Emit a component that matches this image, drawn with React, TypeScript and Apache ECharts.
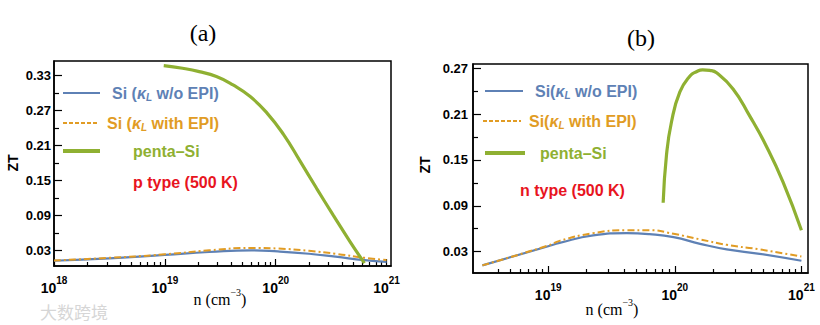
import React, { useEffect, useRef } from "react";
import * as echarts from "echarts";

// ---- data (x values are log10 of n in cm^-3) ----
const leftSiX = [18.0, 18.5, 19.0, 19.4, 19.78, 20.02, 20.3, 20.54, 20.8, 21.0];
const leftBlue = [0.012, 0.016, 0.022, 0.027, 0.030, 0.028, 0.024, 0.019, 0.013, 0.010];
const leftOrange = [0.0125, 0.017, 0.023, 0.030, 0.034, 0.033, 0.029, 0.024, 0.017, 0.0135];
const leftGreenX = [18.99, 19.16, 19.31, 19.465, 19.615, 19.77, 19.92, 20.07, 20.22, 20.37, 20.52, 20.67, 20.8];
const leftGreen = [0.347, 0.3425, 0.3368, 0.3283, 0.3139, 0.294, 0.266, 0.229, 0.183, 0.136, 0.09, 0.045, 0.008];

const rightSiX = [18.48, 19.0, 19.09, 19.355, 19.62, 19.8, 19.99, 20.2, 20.41, 20.67, 21.0];
const rightBlue = [0.012, 0.037, 0.0415, 0.0512, 0.0542, 0.0529, 0.049, 0.0402, 0.0329, 0.0271, 0.018];
const rightOrange = [0.012, 0.038, 0.0441, 0.0542, 0.0581, 0.0581, 0.0533, 0.046, 0.0389, 0.0329, 0.0235];
const rightGreenX = [19.908, 19.934, 19.974, 20.04, 20.12, 20.17, 20.22, 20.276, 20.33, 20.46, 20.59, 20.72, 20.855, 21.0];
const rightGreen = [0.094, 0.156, 0.2, 0.239, 0.26, 0.2655, 0.268, 0.2672, 0.264, 0.243, 0.208, 0.169, 0.121, 0.058];

// ---- ticks ----
const leftXMajor = [18, 19, 20, 21];
const rightXMajor = [19, 20, 21];
const minorMultipliers = [2, 3, 4, 5, 6, 7, 8, 9];
const leftDecades = [18, 19, 20];
const rightDecades = [18, 19, 20];
const yMajor = [0.03, 0.09, 0.15, 0.21, 0.27, 0.33];
const yMinor = [0.06, 0.12, 0.18, 0.24, 0.3];
const rightYMajor = [0.03, 0.09, 0.15, 0.21, 0.27];
const rightYMinor = [0.06, 0.12, 0.18, 0.24];

const BLUE = "#5E81B5";
const ORANGE = "#E19C24";
const GREEN = "#8FB032";
const RED = "#E8141E";
const SANS = "Liberation Sans";
const SERIF = "Liberation Serif";

const pairs = (xs: number[], ys: number[]) => xs.map((x, i) => [x, ys[i]]);
const minorTicks = (decades: number[], lo: number, hi: number) => {
  const out: number[] = [];
  decades.forEach((d) =>
    minorMultipliers.forEach((m) => {
      const v = d + Math.log10(m);
      if (v >= lo && v <= hi) out.push(v);
    })
  );
  return out;
};

function App() {
  const ref = useRef<HTMLDivElement>(null);
  useEffect(() => {
    if (!ref.current) return;
    const chart = echarts.init(ref.current, undefined, { renderer: "svg" });

    const LX = [18, 21.04];
    const RX = [18.406, 21.052];
    const LY = [0.003, 0.355];
    const RY = [0.002, 0.2756];

    const xLabel = {
      fontFamily: SANS,
      fontWeight: "bold",
      fontSize: 14,
      color: "#000",
      margin: 9,
      formatter: (v: number) => `{b|10}{s|${Math.round(v)}}`,
      rich: {
        b: { fontFamily: SANS, fontWeight: "bold", fontSize: 14, color: "#000", lineHeight: 20, verticalAlign: "bottom" },
        s: { fontFamily: SANS, fontWeight: "bold", fontSize: 10, color: "#000", lineHeight: 20, verticalAlign: "top" },
      },
    };
    const axisLine = { show: true, lineStyle: { color: "#000", width: 1.5 } };

    const majorX = (grid: number, range: number[], ticks: number[]) => ({
      type: "value",
      gridIndex: grid,
      position: "bottom",
      min: range[0],
      max: range[1],
      axisLine,
      splitLine: { show: false },
      axisTick: { show: true, inside: true, length: 7, customValues: ticks, lineStyle: { color: "#000", width: 1.2 } },
      axisLabel: { ...xLabel, customValues: ticks, showMinLabel: true, showMaxLabel: true },
    });
    const minorX = (grid: number, range: number[], ticks: number[]) => ({
      type: "value",
      gridIndex: grid,
      position: "bottom",
      min: range[0],
      max: range[1],
      axisLine: { show: false },
      splitLine: { show: false },
      axisTick: { show: true, inside: true, length: 4, customValues: ticks, lineStyle: { color: "#000", width: 1.2 } },
      axisLabel: { show: false },
    });
    const majorY = (grid: number, range: number[], ticks: number[], margin: number) => ({
      type: "value",
      gridIndex: grid,
      position: "left",
      min: range[0],
      max: range[1],
      axisLine,
      splitLine: { show: false },
      axisTick: { show: true, inside: true, length: 8, customValues: ticks, lineStyle: { color: "#000", width: 1.2 } },
      axisLabel: {
        customValues: ticks,
        fontFamily: SANS,
        fontWeight: "bold",
        fontSize: 13,
        color: "#000",
        margin,
        formatter: (v: number) => v.toFixed(2),
      },
    });
    const minorY = (grid: number, range: number[], ticks: number[]) => ({
      type: "value",
      gridIndex: grid,
      position: "left",
      min: range[0],
      max: range[1],
      axisLine: { show: false },
      splitLine: { show: false },
      axisTick: { show: true, inside: true, length: 5, customValues: ticks, lineStyle: { color: "#000", width: 1.2 } },
      axisLabel: { show: false },
    });

    const line = (name: string, xi: number, yi: number, data: number[][], color: string, width: number, type: any) => ({
      name,
      type: "line",
      xAxisIndex: xi,
      yAxisIndex: yi,
      data,
      smooth: 0.5,
      showSymbol: false,
      symbol: "none",
      lineStyle: { color, width, type },
      z: color === GREEN ? 3 : 2,
    });

    const subLabel = (x: number, y: number, text: string, color: string) => ({
      type: "text",
      x,
      y,
      style: {
        text,
        fill: color,
        font: `bold 16px "${SANS}"`,
        verticalAlign: "middle",
        rich: {
          n: { fontFamily: SANS, fontWeight: "bold", fontSize: 16, fill: color, color, lineHeight: 20, verticalAlign: "middle" },
          k: { fontFamily: SANS, fontWeight: "bold", fontStyle: "italic", fontSize: 16, fill: color, color, lineHeight: 20, verticalAlign: "middle" },
          l: { fontFamily: SANS, fontWeight: "bold", fontStyle: "italic", fontSize: 10, fill: color, color, lineHeight: 20, verticalAlign: "bottom", padding: [0, 0, 1, 0] },
        },
      },
    });
    const plainLabel = (x: number, y: number, text: string, color: string) => ({
      type: "text",
      x,
      y,
      style: { text, fill: color, font: `bold 16px "${SANS}"`, verticalAlign: "middle" },
    });
    const legLine = (x1: number, x2: number, y: number, color: string, width: number, dash?: number[]) => ({
      type: "line",
      shape: { x1, y1: y, x2, y2: y },
      style: { stroke: color, lineWidth: width, lineDash: dash || null },
    });
    const axisName = (x: number, y: number) => ({
      type: "text",
      x,
      y,
      style: {
        text: "{a|n (cm}{s|−3}{a|)}",
        align: "center",
        verticalAlign: "middle",
        rich: {
          a: { fontFamily: SERIF, fontSize: 16, fill: "#000", color: "#000", lineHeight: 20, verticalAlign: "bottom" },
          s: { fontFamily: SERIF, fontSize: 10, fill: "#000", color: "#000", lineHeight: 20, verticalAlign: "top" },
        },
      },
    });
    const zt = (x: number, y: number) => ({
      type: "text",
      x,
      y,
      rotation: Math.PI / 2,
      style: { text: "ZT", fill: "#000", font: `bold 14px "${SANS}"`, align: "center", verticalAlign: "middle" },
    });

    chart.setOption({
      animation: false,
      backgroundColor: "#fff",
      grid: [
        { left: 54, top: 61, width: 337, height: 205, show: true, borderColor: "#000", borderWidth: 1.5, backgroundColor: "transparent" },
        { left: 473, top: 64, width: 335, height: 209, show: true, borderColor: "#000", borderWidth: 1.5, backgroundColor: "transparent" },
      ],
      xAxis: [
        majorX(0, LX, leftXMajor),
        minorX(0, LX, minorTicks(leftDecades, LX[0] + 0.01, LX[1])),
        majorX(1, RX, rightXMajor),
        minorX(1, RX, minorTicks(rightDecades, 18.55, RX[1])),
      ],
      yAxis: [
        majorY(0, LY, yMajor, 3),
        minorY(0, LY, yMinor),
        majorY(1, RY, rightYMajor, 5),
        minorY(1, RY, rightYMinor),
      ],
      series: [
        line("Si w/o EPI (p)", 0, 0, pairs(leftSiX, leftBlue), BLUE, 2.2, "solid"),
        line("Si with EPI (p)", 0, 0, pairs(leftSiX, leftOrange), ORANGE, 2, [7, 3, 2, 3]),
        line("penta-Si (p)", 0, 0, pairs(leftGreenX, leftGreen), GREEN, 3.2, "solid"),
        line("Si w/o EPI (n)", 2, 2, pairs(rightSiX, rightBlue), BLUE, 2.2, "solid"),
        line("Si with EPI (n)", 2, 2, pairs(rightSiX, rightOrange), ORANGE, 2, [7, 3, 2, 3]),
        line("penta-Si (n)", 2, 2, pairs(rightGreenX, rightGreen), GREEN, 3.2, "solid"),
      ],
      graphic: [
        { type: "text", x: 203, y: 33, style: { text: "(a)", fill: "#000", font: `24px "${SERIF}"`, align: "center", verticalAlign: "middle" } },
        { type: "text", x: 641, y: 38, style: { text: "(b)", fill: "#000", font: `24px "${SERIF}"`, align: "center", verticalAlign: "middle" } },
        zt(13, 163),
        zt(425, 165),
        axisName(220, 297),
        axisName(612, 307),
        // left legend
        legLine(63, 100, 93, BLUE, 2.2),
        subLabel(112, 93, "{n|Si (}{k|κ}{l|L}{n| w/o EPI)}", BLUE),
        legLine(63, 98, 123, ORANGE, 2, [4, 2]),
        subLabel(107, 123, "{n|Si (}{k|κ}{l|L}{n| with EPI)}", ORANGE),
        legLine(63, 100, 151, GREEN, 4),
        plainLabel(133, 151, "penta–Si", GREEN),
        plainLabel(133, 182, "p type (500 K)", RED),
        // right legend
        legLine(485, 523, 91, BLUE, 2.2),
        subLabel(535, 91, "{n|Si(}{k|κ}{l|L}{n| w/o EPI)}", BLUE),
        legLine(483, 521, 121, ORANGE, 2, [4, 2]),
        subLabel(529, 121, "{n|Si(}{k|κ}{l|L}{n| with EPI)}", ORANGE),
        legLine(485, 525, 153, GREEN, 4),
        plainLabel(540, 153, "penta–Si", GREEN),
        plainLabel(520, 190, "n type (500 K)", RED),
        // watermark
        { type: "text", x: 40, y: 311, style: { text: "大数跨境", fill: "#d6d6d6", font: `17px "Noto Sans CJK SC"`, verticalAlign: "middle" } },
      ],
    });
    return () => chart.dispose();
  }, []);
  return <div ref={ref} style={{ position: "fixed", left: 0, top: 0, width: 820, height: 325 }} />;
}

export default App;
